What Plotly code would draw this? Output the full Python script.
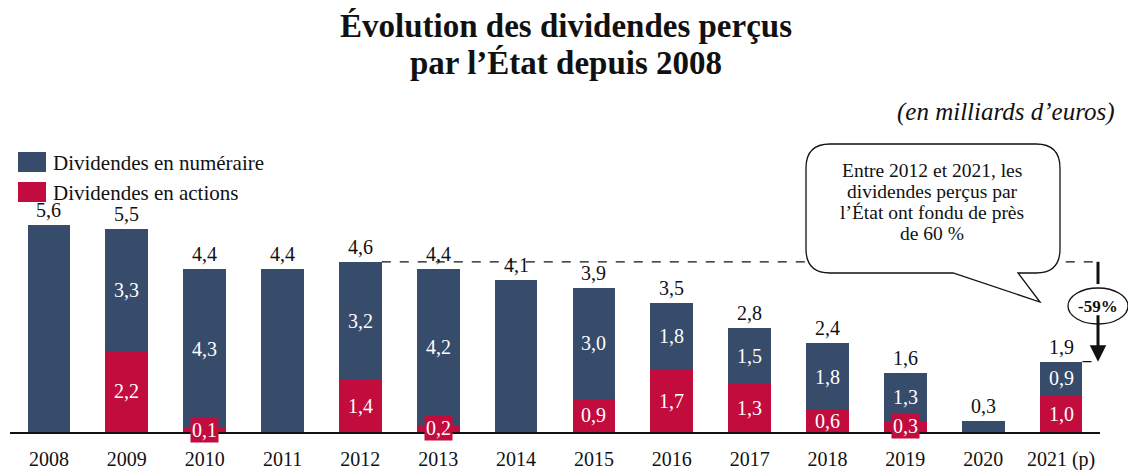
import plotly.graph_objects as go

years = ["2008", "2009", "2010", "2011", "2012", "2013", "2014", "2015",
         "2016", "2017", "2018", "2019", "2020", "2021 (p)"]
numeraire = [5.6, 3.3, 4.3, 4.4, 3.2, 4.2, 4.1, 3.0, 1.8, 1.5, 1.8, 1.3, 0.3, 0.9]
actions = [0.0, 2.2, 0.1, 0.0, 1.4, 0.2, 0.0, 0.9, 1.7, 1.3, 0.6, 0.3, 0.0, 1.0]
totals = [5.6, 5.5, 4.4, 4.4, 4.6, 4.4, 4.1, 3.9, 3.5, 2.8, 2.4, 1.6, 0.3, 1.9]
legend_labels = ["Dividendes en numéraire", "Dividendes en actions"]
title_lines = ["Évolution des dividendes perçus", "par l’État depuis 2008"]
unit_label = "(en milliards d’euros)"
callout_text = ["Entre 2012 et 2021, les", "dividendes perçus par",
                "l’État ont fondu de près", "de 60 %"]
drop_label = "-59%"
ref_start, ref_end = 4, 13  # 2012 -> 2021

NAVY = "#374B6B"
RED = "#C10C3D"
FONT = "Liberation Serif"
INK = "#111111"

W, H = 1128, 470
ML, MR, MT, MB = 10, 28, 100, 38
PW, PH = W - ML - MR, H - MT - MB


def px(x):
    return (x - ML) / PW


def py(y):
    return (H - MB - y) / PH


def fmt(v):
    return f"{v:.1f}".replace(".", ",")


def note(x, y, text, size, color=INK, xanchor="center", **kw):
    d = dict(x=x, y=y, text=text, showarrow=False, xanchor=xanchor, yanchor="middle",
             font=dict(family=FONT, size=size, color=color))
    d.setdefault("xref", "paper")
    d.setdefault("yref", "paper")
    d.update(kw)
    return d


xs = list(range(len(years)))
BW = 0.55

fig = go.Figure()
fig.add_trace(go.Bar(x=xs, y=actions, marker_color=RED, width=BW,
                     marker_line_width=0, name=legend_labels[1], hoverinfo="skip"))
fig.add_trace(go.Bar(x=xs, y=numeraire, marker_color=NAVY, width=BW,
                     marker_line_width=0, name=legend_labels[0], hoverinfo="skip"))

ann = []
shapes = []
LS = 20
for i, (n, a, t) in enumerate(zip(numeraire, actions, totals)):
    ann.append(note(i, t, fmt(t), LS, xref="x", yref="y", yshift=15))
    if a > 0:
        ann.append(note(i, a + n / 2, fmt(n), LS, color="white", xref="x", yref="y"))
        if a < 0.4:
            ann.append(note(i, a / 2, fmt(a), LS, color="white", xref="x", yref="y",
                            bgcolor=RED, borderpad=1))
        else:
            ann.append(note(i, a / 2, fmt(a), LS, color="white", xref="x", yref="y"))

# title and unit
ann.append(note(px(566), py(26), "<b>" + title_lines[0] + "</b>", 33))
ann.append(note(px(566), py(63), "<b>" + title_lines[1] + "</b>", 33))
ann.append(note(px(1117), py(112), "<i>" + unit_label + "</i>", 25, xanchor="right"))

# legend
for k, (lab, col) in enumerate(zip(legend_labels, [NAVY, RED])):
    y0 = 152 + 30 * k
    shapes.append(dict(type="rect", xref="paper", yref="paper", x0=px(18), x1=px(46),
                       y0=py(y0 + 20), y1=py(y0), fillcolor=col, line_width=0))
    ann.append(note(px(51), py(y0 + 11), lab, 21, xanchor="left"))

# dashed reference lines
shapes.append(dict(type="line", xref="x", yref="y", x0=ref_start + BW / 2, x1=13.56,
                   y0=totals[ref_start], y1=totals[ref_start],
                   line=dict(color=INK, width=1.3, dash="dash")))
shapes.append(dict(type="line", xref="x", yref="y", x0=ref_end + BW / 2, x1=13.56,
                   y0=totals[ref_end], y1=totals[ref_end],
                   line=dict(color=INK, width=1.3, dash="dash")))


def P(x, y):
    return f"{px(x):.5f},{py(y):.5f}"


# callout bubble
L, R, T, B, r = 806, 1060, 144, 273, 24
path = (f"M{P(L + r, T)} L{P(R - r, T)} Q{P(R, T)} {P(R, T + r)} L{P(R, B - r)} "
        f"Q{P(R, B)} {P(R - r, B)} L{P(1018, B)} L{P(1040, 302)} L{P(953, B)} "
        f"L{P(L + r, B)} Q{P(L, B)} {P(L, B - r)} L{P(L, T + r)} Q{P(L, T)} {P(L + r, T)} Z")
shapes.append(dict(type="path", xref="paper", yref="paper", path=path,
                   fillcolor="white", line=dict(color=INK, width=1.3)))
for k, line in enumerate(callout_text):
    ann.append(note(px(932), py(170 + 21 * k), line, 19.5))

# arrow (upper stem + lower arrow) and ellipse
AX = 1098
shapes.append(dict(type="line", xref="paper", yref="y", x0=px(AX), x1=px(AX),
                   y0=totals[ref_start], y1=totals[ref_start] - 0.6,
                   line=dict(color=INK, width=3)))
ann.append(dict(x=px(AX), y=totals[ref_end], xref="paper", yref="y",
                ax=0, ay=-48, axref="pixel", ayref="pixel",
                text="", showarrow=True, arrowhead=2, arrowsize=1.1, arrowwidth=3,
                arrowcolor=INK))
shapes.append(dict(type="circle", xref="paper", yref="paper", x0=px(1068), x1=px(1128),
                   y0=py(324), y1=py(288), fillcolor="white", line=dict(color=INK, width=1.3)))
ann.append(note(px(AX), py(306), "<b>" + drop_label + "</b>", 17))

fig.update_layout(
    width=W, height=H, barmode="stack", showlegend=False,
    margin=dict(l=ML, r=MR, t=MT, b=MB, autoexpand=False),
    paper_bgcolor="white", plot_bgcolor="white",
    xaxis=dict(range=[-0.5, 13.5], tickvals=xs, ticktext=years, showgrid=False,
               showline=True, linecolor=INK, linewidth=2, ticks="outside",
               ticklen=8, tickcolor="rgba(0,0,0,0)", zeroline=False, automargin=False,
               tickfont=dict(family=FONT, size=20, color=INK)),
    yaxis=dict(range=[0, PH / 37.0], visible=False, automargin=False),
    annotations=ann, shapes=shapes,
)
fig.write_html("out.html", config={"displayModeBar": False},
               post_script="document.body.style.margin='0';document.body.style.overflow='hidden';")
